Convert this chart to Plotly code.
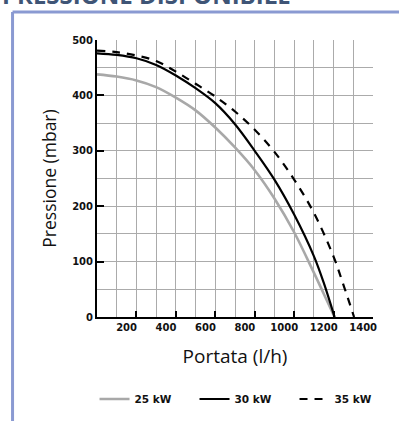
import plotly.graph_objects as go

# ---- data ----
portata = [50, 150, 250, 350, 450, 550, 650, 750, 850, 950, 1050, 1150, 1200, 1255]
p25 = [438, 434, 427, 415, 396, 373, 342, 306, 265, 214, 153, 80, 42, 0]
p30 = [476, 473, 467, 455, 436, 413, 386, 348, 300, 248, 185, 110, 62, 0]

portata35 = [50, 150, 250, 350, 450, 550, 650, 750, 850, 950, 1050, 1150, 1250, 1300, 1354]
p35 = [481, 478, 472, 462, 443, 421, 398, 371, 338, 298, 248, 188, 109, 58, 0]

series_names = ["25 kW", "30 kW", "35 kW"]
x_tick_labels = [200, 400, 600, 800, 1000, 1200, 1400]
x_tick_marks = [250, 450, 650, 850, 1050, 1250, 1450]
y_ticks = [0, 100, 200, 300, 400, 500]
x_range = [50, 1450]
y_range = [0, 500]

GRID = "#ababab"
TICKFONT = dict(family="DejaVu Sans", size=10, color="#111111", weight="bold")

fig = go.Figure()
fig.add_trace(go.Scatter(x=portata, y=p25, mode="lines", name=series_names[0],
                         line=dict(color="#a8a8a8", width=2.6, shape="spline")))
fig.add_trace(go.Scatter(x=portata, y=p30, mode="lines", name=series_names[1],
                         line=dict(color="#000000", width=2.2, shape="spline")))
fig.add_trace(go.Scatter(x=portata35, y=p35, mode="lines", name=series_names[2],
                         line=dict(color="#000000", width=2.2, dash="8px,7px", shape="spline")))
# helper traces so overlay axes are drawn
fig.add_trace(go.Scatter(x=[], y=[], xaxis="x2", showlegend=False, hoverinfo="skip"))
fig.add_trace(go.Scatter(x=[], y=[], xaxis="x3", showlegend=False, hoverinfo="skip"))

fig.update_layout(
    width=399, height=421,
    margin=dict(l=97, r=26, t=40, b=104, autoexpand=False),
    paper_bgcolor="white", plot_bgcolor="white",
    showlegend=True,
    legend=dict(orientation="h", x=-0.009, xanchor="left", y=-0.296, yanchor="middle",
                font=dict(family="DejaVu Sans", size=10.5, color="#111111", weight="bold"),
                entrywidth=55, itemwidth=30, tracegroupgap=0),
    xaxis=dict(range=x_range, tickmode="linear", tick0=50, dtick=100,
               showgrid=True, gridcolor=GRID, gridwidth=1.4, automargin=False,
               showticklabels=False, ticks="", zeroline=False,
               showline=True, linecolor="black", linewidth=2),
    xaxis2=dict(range=x_range, overlaying="x", side="bottom", tickmode="array",
                tickvals=x_tick_labels, ticktext=[str(v) for v in x_tick_labels],
                showgrid=False, zeroline=False, showline=False, ticks="", automargin=False,
                tickfont=TICKFONT, ticklabelstandoff=3,
                title=dict(text="Portata (l/h)", font=dict(family="Open Sans", size=19, color="#111111"),
                           standoff=17)),
    xaxis3=dict(range=x_range, overlaying="x", side="bottom", tickmode="array",
                tickvals=x_tick_marks, showticklabels=False, automargin=False,
                showgrid=False, zeroline=False, showline=False,
                ticks="inside", ticklen=6, tickwidth=2, tickcolor="black"),
    yaxis=dict(range=y_range, tickmode="array", tickvals=y_ticks, automargin=False,
               showgrid=True, gridcolor=GRID, gridwidth=1.4,
               minor=dict(dtick=50, showgrid=True, gridcolor=GRID, gridwidth=1.4, ticks=""),
               ticks="inside", ticklen=7, tickwidth=2, tickcolor="black",
               zeroline=False, showline=True, linecolor="black", linewidth=2,
               tickfont=TICKFONT,
               title=dict(text="Pressione (mbar)", font=dict(family="Open Sans", size=17.5, color="#111111"),
                          standoff=11)),
)

# frame and heading of the page (decoration)
fig.add_shape(type="line", xref="paper", yref="paper", x0=-0.306, x1=-0.306, y0=-0.5, y1=1.101,
              line=dict(color="#8a9ad2", width=3))
fig.add_shape(type="line", xref="paper", yref="paper", x0=-0.306, x1=1.2, y0=1.101, y1=1.101,
              line=dict(color="#8a9ad2", width=3))
fig.add_annotation(text="PRESSIONE DISPONIBILE", xref="paper", yref="paper",
                   x=-0.35, y=1.166, xanchor="left", yanchor="middle", showarrow=False,
                   font=dict(family="Open Sans", size=24, color="#3f5576", weight="bold"))

fig.write_html("out.html", config={"displayModeBar": False},
               post_script="document.body.style.margin='0';")
